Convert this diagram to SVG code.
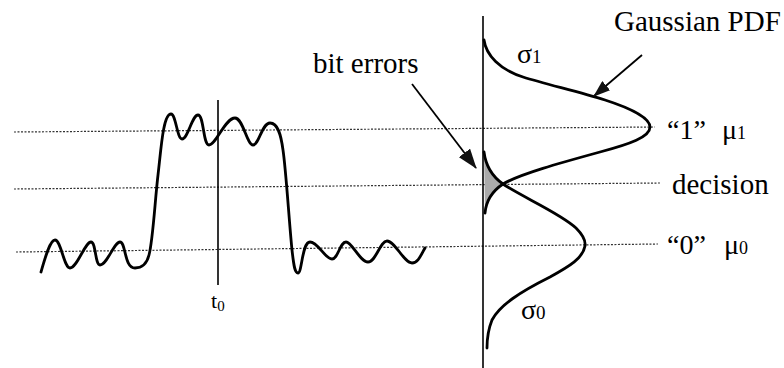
<svg xmlns="http://www.w3.org/2000/svg" width="784" height="368" viewBox="0 0 784 368">
<defs>
<style>
.dot{stroke:#333;stroke-width:1.2;stroke-dasharray:2 1.5;fill:none}
.curve{stroke:#000;stroke-width:2.8;fill:none;stroke-linejoin:round;stroke-linecap:round}
.axis{stroke:#000;stroke-width:1.6;fill:none}
.arr{stroke:#000;stroke-width:1.8;fill:none}
.t{font-family:"Liberation Serif","Times New Roman",serif;fill:#000}
</style>
<marker id="ah" markerWidth="20" markerHeight="14" refX="19" refY="7" orient="auto" markerUnits="userSpaceOnUse" viewBox="0 0 20 14">
<path d="M0,0 L20,7 L0,14 Z" fill="#111"/>
</marker>
<marker id="ah2" markerWidth="17" markerHeight="12" refX="16" refY="6" orient="auto" markerUnits="userSpaceOnUse" viewBox="0 0 17 12">
<path d="M0,0 L17,6 L0,12 Z" fill="#111"/>
</marker>
</defs>
<rect width="784" height="368" fill="#fff"/>
<g id="levels">
<line class="dot" x1="14" y1="132" x2="655" y2="127"/>
<line class="dot" x1="14" y1="189" x2="660" y2="183"/>
<line class="dot" x1="16" y1="252" x2="658" y2="244"/>
</g>
<g id="waveform">
<line class="axis" x1="218" y1="100" x2="218" y2="285"/>
<path class="curve" d="M41,272 C45,258 50,240 55,240 C61,240 64,268 70,268 C77,268 85,242 91,242 C96,242 95,265 100,265 C107,265 114,242 120,242 C126,242 124,268 135,268 C143,268 147,263 149,255 C153,240 155,200 158,175 C161,150 163,114 171,114 C176,114 177,139 182,139 C188,139 192,115 198,115 C204,115 203,145 209,145 C216,145 225,118 235,118 C243,118 247,145 253,145 C259,145 262,123 270,123 C278,123 281,135 283,150 C286,170 289,220 292,250 C294,268 295,273 298,273 C302,273 302,242 310,242 C318,242 325,259 332,259 C338,259 340,242 346,242 C352,242 360,262 368,262 C376,262 380,241 387,241 C395,241 404,263 412,263 C418,263 421,255 425,248"/>
<text class="t" x="211" y="308" font-size="22">t<tspan font-size="15" dy="3">0</tspan></text>
</g>
<g id="pdf">
<line class="axis" x1="483" y1="16" x2="483" y2="368"/>
<path d="M484,152 C486,168 493,177 503,184 C491,192 486,202 485,213 Z" fill="#aaa"/>
<path class="curve" d="M484,40 C486,55 500,70 523,77 C545,84 580,92 605,100 C630,108 650,118 650,127 C650,137 630,144 600,152 C560,163 520,174 503,184 C491,192 486,202 485,213"/>
<path class="curve" d="M484,152 C486,168 493,177 503,184 C520,196 560,213 576,228 C583,235 586,240 585,246 C583,258 570,266 550,277 C520,292 500,305 492,320 C488,330 487,338 487,348"/>
<text class="t" x="517" y="63" font-size="28">σ<tspan font-size="19">1</tspan></text>
<text class="t" x="521" y="319" font-size="28">σ<tspan font-size="19">0</tspan></text>
</g>
<g id="labels">
<text class="t" x="614" y="31" font-size="29">Gaussian PDF</text>
<text class="t" x="313" y="73" font-size="29">bit errors</text>
<text class="t" x="667" y="139" font-size="28">“1”</text>
<text class="t" x="722" y="139" font-size="28">μ<tspan font-size="18">1</tspan></text>
<text class="t" x="672" y="194" font-size="29">decision</text>
<text class="t" x="667" y="254" font-size="28">“0”</text>
<text class="t" x="724" y="254" font-size="28">μ<tspan font-size="18">0</tspan></text>
</g>
<g id="connectors">
<line class="arr" x1="412" y1="84" x2="476" y2="168" marker-end="url(#ah)"/>
<line class="arr" x1="642" y1="55" x2="594" y2="96" marker-end="url(#ah2)"/>
</g>
</svg>
